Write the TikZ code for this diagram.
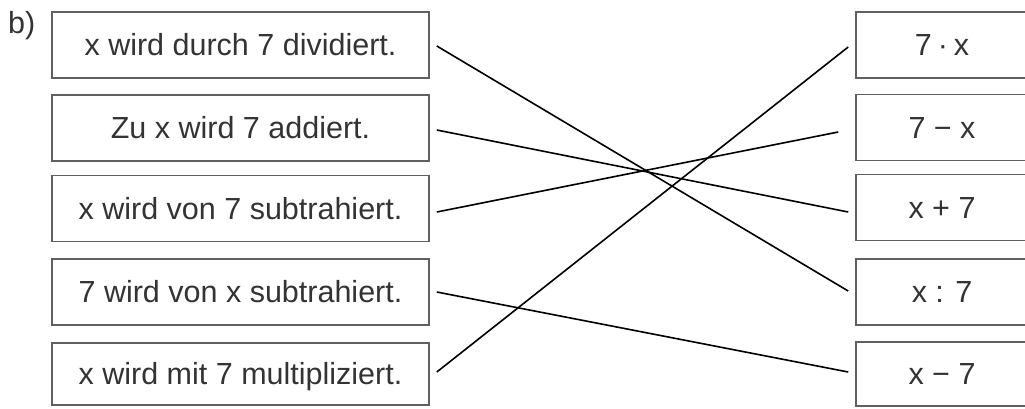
\documentclass[tikz,border=0pt]{standalone}
\usepackage{fontspec}
\setmainfont{Liberation Sans}
\usetikzlibrary{calc}
\definecolor{boxgray}{HTML}{606060}
\definecolor{txtgray}{HTML}{333333}
\newcommand{\rpad}{\kern12pt}
\begin{document}
\begin{tikzpicture}[x=1pt,y=-1pt,
  lbox/.style={draw=boxgray, line width=1.6pt, minimum width=377pt, minimum height=66pt,
    inner sep=0pt, text height=21pt, text depth=0pt, text=txtgray,
    font=\fontsize{30.5}{34}\selectfont},
  rbox/.style={lbox, minimum width=184pt},
  conn/.style={line width=1.6pt, black}
]
\useasboundingbox (0,0) rectangle (1025,408);
\node[anchor=base west, text=txtgray, font=\fontsize{30.5}{34}\selectfont, inner sep=0pt] (lab) at (8,33) {b)};

\node[lbox] (l1) at (240.5,45)    {x wird durch 7 dividiert.};
\node[lbox] (l2) at (240.5,128)   {Zu x wird 7 addiert.};
\node[lbox] (l3) at (240.5,208.5) {x wird von 7 subtrahiert.};
\node[lbox] (l4) at (240.5,292)   {7 wird von x subtrahiert.};
\node[lbox, minimum height=62pt] (l5) at (240.5,374) {x wird mit 7 multipliziert.};

\node[rbox] (r1) at (948,45)    {7\hspace{6pt}·\hspace{6pt}x\rpad};
\node[rbox] (r2) at (948,127.5) {7 − x\rpad};
\node[rbox] (r3) at (948,207.5) {x + 7\rpad};
\node[rbox] (r4) at (948,292)   {x : 7\rpad};
\node[rbox, minimum height=64pt] (r5) at (948,374) {x − 7\rpad};

\draw[conn] ($(l1.east)+(7,1)$)  -- ($(r4.west)+(-7,-1)$);
\draw[conn] ($(l2.east)+(7,2)$)  -- ($(r3.west)+(-7,4.5)$);
\draw[conn] ($(l3.east)+(7,3.5)$) -- ($(r2.west)+(-17,4.5)$);
\draw[conn] ($(l4.east)+(7,0)$)  -- ($(r5.west)+(-7,-2)$);
\draw[conn] ($(l5.east)+(7,-2)$) -- ($(r1.west)+(-7,2)$);
\end{tikzpicture}
\end{document}
